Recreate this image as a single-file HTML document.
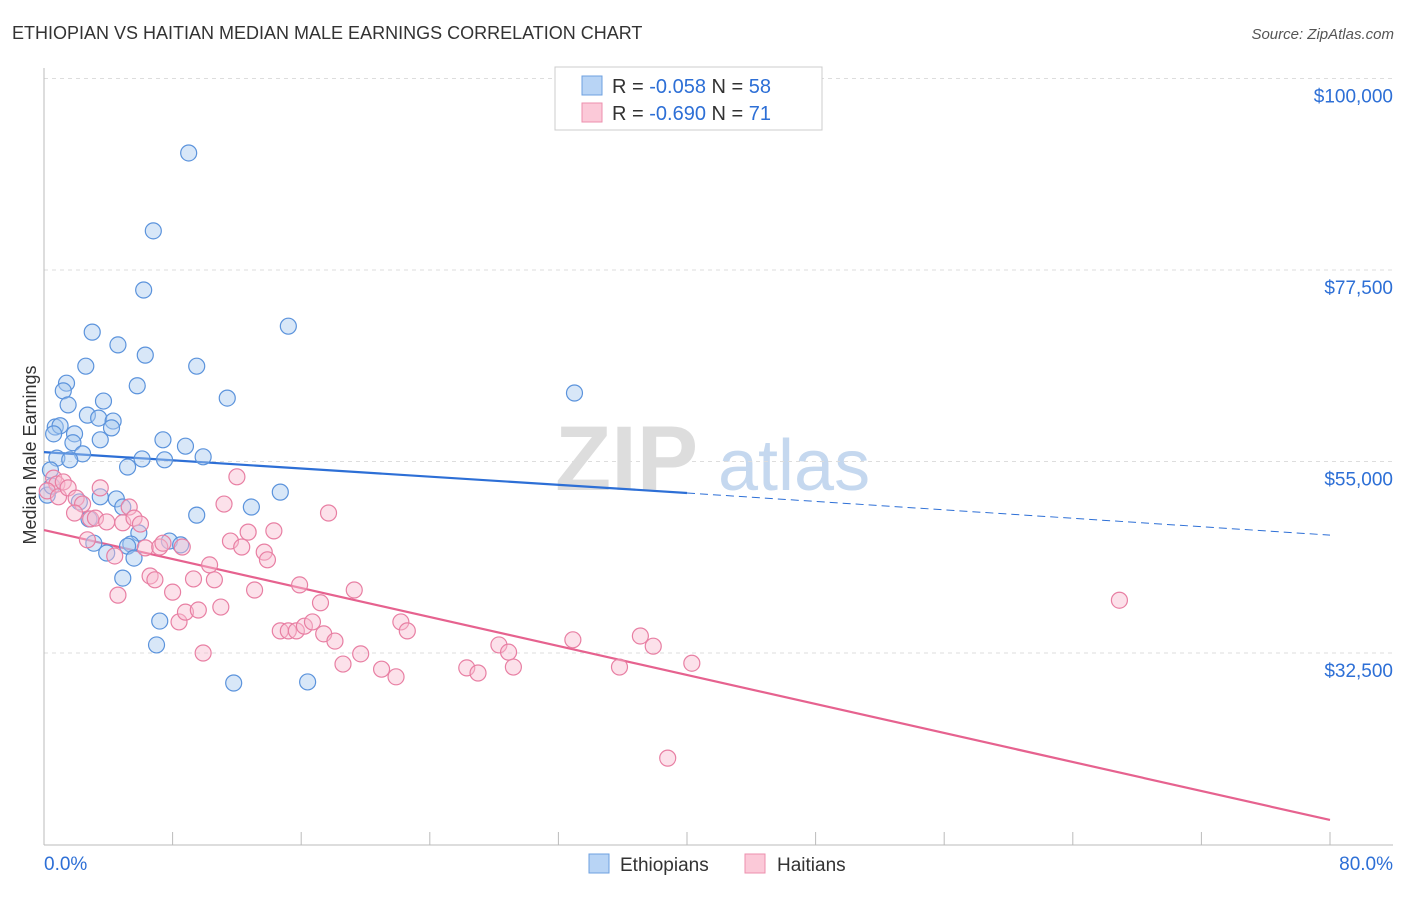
<!DOCTYPE html>
<html><head><meta charset="utf-8">
<style>
body{margin:0;background:#fff;font-family:"Liberation Sans",sans-serif;}
svg text{font-family:"Liberation Sans",sans-serif;}
</style></head>
<body>
<svg id="chart" width="1406" height="892" viewBox="0 0 1406 892">
<text x="12" y="39" font-size="18" fill="#333">ETHIOPIAN VS HAITIAN MEDIAN MALE EARNINGS CORRELATION CHART</text>
<text x="1394" y="39" font-size="15" fill="#555" text-anchor="end" font-style="italic">Source: ZipAtlas.com</text>
<text x="36" y="455" font-size="18" fill="#333" text-anchor="middle" transform="rotate(-90 36 455)">Median Male Earnings</text>
<g>
<text x="555" y="490" font-size="92" fill="#ddd" font-family="Liberation Serif" font-weight="bold">ZIP</text>
<text x="718" y="490" font-size="72" fill="#c5d8ef">atlas</text>
</g>
<g id="grid"></g><g id="axes"></g><g id="trend"></g><g id="pts"></g>
<g>
<rect x="555" y="67" width="267" height="63" fill="#fff" stroke="#ccc"/>
<rect x="582" y="76" width="20" height="19" fill="#b8d4f5" stroke="#6ea0e0"/>
<rect x="582" y="103" width="20" height="19" fill="#fbc9d8" stroke="#ec8fae"/>
<text x="612" y="93" font-size="20" fill="#333">R = <tspan fill="#2d6fd6">-0.058</tspan>    N = <tspan fill="#2d6fd6">58</tspan></text>
<text x="612" y="120" font-size="20" fill="#333">R = <tspan fill="#2d6fd6">-0.690</tspan>    N =  <tspan fill="#2d6fd6">71</tspan></text>
</g>
<g>
<rect x="589" y="854" width="20" height="19" fill="#b8d4f5" stroke="#6ea0e0"/>
<text x="620" y="871" font-size="19" fill="#333">Ethiopians</text>
<rect x="745" y="854" width="20" height="19" fill="#fbc9d8" stroke="#ec8fae"/>
<text x="777" y="871" font-size="19" fill="#333">Haitians</text>
</g>
<text x="44" y="870" font-size="19" fill="#2d6fd6">0.0%</text>
<text x="1393" y="870" font-size="19" fill="#2d6fd6" text-anchor="end">80.0%</text>
</svg>
<script>
const yTicks=[100000,77500,55000,32500];
const yTickLabels=["$100,000","$77,500","$55,000","$32,500"];
const eX=[9.0,6.8,6.2,15.2,3.0,4.6,6.3,2.6,9.5,1.4,1.2,5.8,33.0,11.4,1.5,3.7,2.7,3.4,4.3,4.2,0.7,1.0,0.6,1.9,1.8,3.5,7.4,8.8,2.4,0.8,1.6,6.1,7.5,9.9,5.2,0.4,0.2,3.5,4.5,4.9,14.7,12.9,9.5,2.8,2.2,5.9,3.1,5.4,5.2,7.8,8.5,3.9,5.6,4.9,7.2,7.0,11.8,16.4,0.5];
const eY=[91250,82100,75150,70900,70200,68700,67500,66200,66200,64200,63300,63900,63050,62450,61650,62100,60450,60100,59750,58950,59050,59200,58250,58250,57200,57550,57550,56800,55900,55400,55200,55300,55200,55550,54350,54000,51050,50850,50600,49650,51400,49650,48700,48250,50250,46600,45400,45300,45050,45650,45200,44250,43650,41300,36250,33450,28975,29100,52100];
const hX=[0.6,0.8,0.2,0.9,1.2,1.5,3.5,2.0,2.4,1.9,2.9,3.2,3.9,4.9,5.3,5.6,6.0,2.7,4.4,4.6,6.3,7.2,7.4,8.6,6.6,6.9,8.0,8.4,8.8,9.3,9.6,9.9,10.3,10.6,11.0,11.2,11.6,12.0,12.3,12.7,13.1,13.7,13.9,14.3,14.7,15.2,15.7,15.9,16.2,16.7,17.2,17.4,17.7,18.1,18.6,19.3,19.7,21.0,21.9,22.2,22.6,26.3,27.0,28.3,28.9,29.2,32.9,35.8,37.1,37.9,40.3,38.8,66.9];
const hY=[53050,52350,51550,50850,52600,51900,51900,50700,50000,48950,48250,48350,47900,47800,49650,48350,47650,45800,43900,39300,44850,44950,45400,44950,41550,41100,39650,36150,37300,41200,37550,32500,42850,41100,37900,50000,45650,53200,44950,46700,39900,44350,43450,46850,35100,35100,35100,40500,35650,36150,38400,34750,48950,33900,31200,39900,32400,30600,29700,36150,35100,30750,30150,33450,32600,30850,34050,30850,34500,33300,31300,20150,38700];
const eTrend=[56100,51300,46350]; // values at 0%,40%,80%
const hTrend=[46950,12880];       // values at 0%,80%
const X=p=>44+p*1286/80;
const Y=v=>653-(v-32500)*191.5/22500;
const NS="http://www.w3.org/2000/svg";
function mk(tag,parent,attrs){const e=document.createElementNS(NS,tag);for(const k in attrs)e.setAttribute(k,attrs[k]);document.getElementById(parent).appendChild(e);return e;}
yTicks.forEach((v,i)=>{
 const l=mk('line','grid',{x1:44,x2:1393,y1:Y(v),y2:Y(v),stroke:'#ddd','stroke-dasharray':'4 4'});
 
 
 const t=mk('text','grid',{x:1393,y:Y(v)+24,'font-size':19,fill:'#2d6fd6','text-anchor':'end'});
 t.textContent=yTickLabels[i];
 
 
});
const ax=mk('line','axes',{x1:44,x2:44,y1:68,y2:845,stroke:'#bbb'});


const bx=mk('line','axes',{x1:44,x2:1393,y1:845,y2:845,stroke:'#bbb'});


for(let i=0;i<=10;i++){const t=mk('line','axes',{x1:X(i*8),x2:X(i*8),y1:832,y2:845,stroke:'#bbb'});
 
 }
function dot(x,y,f,s,n){const c=mk('circle','pts',{cx:X(x),cy:Y(y),r:8,fill:f,'fill-opacity':0.45,stroke:s,'stroke-width':1.2});
 
 }
eX.forEach((x,i)=>dot(x,eY[i],'#a9c9f0','#5b93dc','ethiopian-point'));
hX.forEach((x,i)=>dot(x,hY[i],'#f8bcd0','#e87fa3','haitian-point'));
const t1=mk('line','trend',{x1:X(0),y1:Y(eTrend[0]),x2:X(40),y2:Y(eTrend[1]),stroke:'#2d6fd6','stroke-width':2.2});


const t2=mk('line','trend',{x1:X(40),y1:Y(eTrend[1]),x2:X(80),y2:Y(eTrend[2]),stroke:'#2d6fd6','stroke-width':1,'stroke-dasharray':'8 5'});


const t3=mk('line','trend',{x1:X(0),y1:Y(hTrend[0]),x2:X(80),y2:Y(hTrend[1]),stroke:'#e6628f','stroke-width':2.2});


</script>
</body></html>
